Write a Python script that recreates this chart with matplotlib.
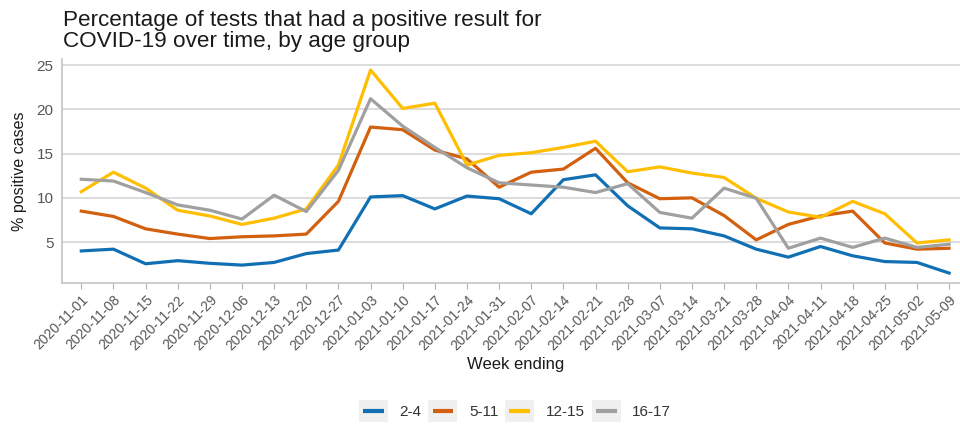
import numpy as np
import matplotlib.pyplot as plt
from matplotlib.legend_handler import HandlerLine2D
from matplotlib.patches import Rectangle
from matplotlib.lines import Line2D

plt.rcParams['font.family'] = ['Liberation Sans', 'DejaVu Sans']

weeks = ['2020-11-01', '2020-11-08', '2020-11-15', '2020-11-22', '2020-11-29',
         '2020-12-06', '2020-12-13', '2020-12-20', '2020-12-27', '2021-01-03',
         '2021-01-10', '2021-01-17', '2021-01-24', '2021-01-31', '2021-02-07',
         '2021-02-14', '2021-02-21', '2021-02-28', '2021-03-07', '2021-03-14',
         '2021-03-21', '2021-03-28', '2021-04-04', '2021-04-11', '2021-04-18',
         '2021-04-25', '2021-05-02', '2021-05-09']

age_2_4 = [4.0, 4.2, 2.55, 2.9, 2.6, 2.4, 2.7, 3.7, 4.1, 10.1, 10.25, 8.75, 10.2, 9.9,
           8.2, 12.05, 12.6, 9.1, 6.6, 6.5, 5.7, 4.2, 3.3, 4.5, 3.45, 2.8, 2.7, 1.5]
age_5_11 = [8.5, 7.9, 6.5, 5.9, 5.4, 5.6, 5.7, 5.9, 9.6, 18.0, 17.7, 15.4, 14.4, 11.2,
            12.9, 13.25, 15.6, 11.7, 9.9, 10.0, 8.0, 5.25, 7.0, 7.95, 8.5, 4.9, 4.2, 4.3]
age_12_15 = [10.7, 12.9, 11.1, 8.6, 7.95, 7.0, 7.7, 8.75, 13.7, 24.45, 20.1, 20.7, 13.7, 14.8,
             15.1, 15.7, 16.4, 12.95, 13.5, 12.8, 12.3, 9.95, 8.4, 7.8, 9.6, 8.2, 4.9, 5.25]
age_16_17 = [12.1, 11.9, 10.6, 9.2, 8.6, 7.6, 10.3, 8.45, 13.1, 21.2, 18.1, 15.7, 13.4, 11.7,
             11.45, 11.2, 10.6, 11.6, 8.35, 7.7, 11.1, 9.95, 4.3, 5.45, 4.4, 5.45, 4.4, 4.75]

groups = ['2-4', '5-11', '12-15', '16-17']
colors = ['#1170B4', '#D2600F', '#FFBE00', '#A0A0A0']


# ggplot-like legend key: grey square with a short line inside
class KeyHandler(HandlerLine2D):
    def create_artists(self, legend, orig_handle, xdescent, ydescent, width, height,
                       fontsize, trans):
        bg = Rectangle((-xdescent, -ydescent), width, height, transform=trans,
                       facecolor='#f0f0f0', edgecolor='none')
        y = -ydescent + height / 2
        ln = Line2D([-xdescent + width * 0.14, -xdescent + width * 0.86], [y, y],
                    color=orig_handle.get_color(), lw=3, transform=trans,
                    solid_capstyle='butt')
        return [bg, ln]


fig = plt.figure(figsize=(9.6, 4.24), dpi=100)
ax = fig.add_axes([0.0646, 0.332, 1.0 - 0.0646, 0.528])

x = np.arange(len(weeks))
for vals, lab, c in zip([age_2_4, age_5_11, age_12_15, age_16_17], groups, colors):
    ax.plot(x, vals, color=c, lw=2.3, label=lab)

ax.set_xlim(-0.6, 27.34)
ax.set_ylim(0.35, 25.65)
ax.set_yticks([5, 10, 15, 20, 25])
ax.set_xticks(x)
ax.set_xticklabels(weeks, rotation=45, ha='right', rotation_mode='anchor')
ax.grid(axis='y', color='#d9d9d9', lw=1.3)
ax.set_axisbelow(True)
for s in ['top', 'right']:
    ax.spines[s].set_visible(False)
for s in ['left', 'bottom']:
    ax.spines[s].set_color('#c8c8c8')
    ax.spines[s].set_linewidth(1.3)
ax.tick_params(axis='y', length=0, pad=6, labelsize=11, labelcolor='#555555')
ax.tick_params(axis='x', length=4, color='#b0b0b0', pad=3, labelsize=10,
               labelcolor='#555555')

fig.text(20 / 960, 1 - 171 / 424, '% positive cases', fontsize=11.5, rotation=90,
         ha='center', va='center', color='#1a1a1a')
fig.text(516 / 960, 1 - 365 / 424, 'Week ending', fontsize=12, ha='center',
         va='center', color='#1a1a1a')
fig.text(63 / 960, 1 - 26 / 424, 'Percentage of tests that had a positive result for',
         fontsize=16.2, ha='left', va='baseline', color='#1a1a1a')
fig.text(63 / 960, 1 - 47 / 424, 'COVID-19 over time, by age group',
         fontsize=16.2, ha='left', va='baseline', color='#1a1a1a')

handles, labels = ax.get_legend_handles_labels()
leg = fig.legend(handles, labels, loc='center', bbox_to_anchor=(515 / 960, 1 - 411 / 424),
                 ncol=4, frameon=False, fontsize=11, handlelength=1.9, handleheight=1.85,
                 columnspacing=0.45, handletextpad=0.75,
                 handler_map={Line2D: KeyHandler()})
for t in leg.get_texts():
    t.set_color('#333333')

fig.savefig('out.png', dpi=100)
